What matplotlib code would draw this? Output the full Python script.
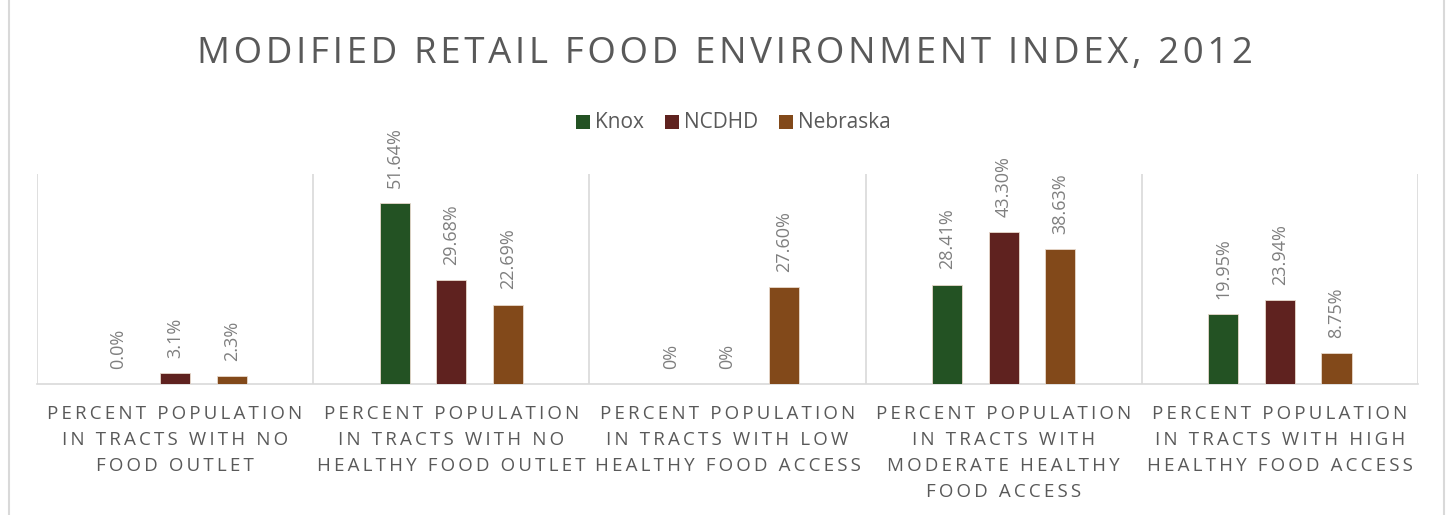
import numpy as np
import matplotlib.pyplot as plt
from matplotlib.lines import Line2D
from matplotlib.patches import Rectangle

categories = [
    "PERCENT POPULATION\nIN TRACTS WITH NO\nFOOD OUTLET",
    "PERCENT POPULATION\nIN TRACTS WITH NO\nHEALTHY FOOD OUTLET",
    "PERCENT POPULATION\nIN TRACTS WITH LOW\nHEALTHY FOOD ACCESS",
    "PERCENT POPULATION\nIN TRACTS WITH\nMODERATE HEALTHY\nFOOD ACCESS",
    "PERCENT POPULATION\nIN TRACTS WITH HIGH\nHEALTHY FOOD ACCESS",
]
series_names = ["Knox", "NCDHD", "Nebraska"]
knox = [0.0, 51.64, 0.0, 28.41, 19.95]
ncdhd = [3.1, 29.68, 0.0, 43.30, 23.94]
nebraska = [2.3, 22.69, 27.60, 38.63, 8.75]
knox_labels = ["0.0%", "51.64%", "0%", "28.41%", "19.95%"]
ncdhd_labels = ["3.1%", "29.68%", "0%", "43.30%", "23.94%"]
nebraska_labels = ["2.3%", "22.69%", "27.60%", "38.63%", "8.75%"]
colors = ["#235223", "#5F221F", "#82491A"]

plt.rcParams['font.family'] = ['Open Sans', 'DejaVu Sans']

W, H = 1450, 515


def spaced(s, sep='\u2009'):
    # fake letter spacing by putting thin spaces between characters
    return '\n'.join(sep.join(line) for line in s.split('\n'))


fig = plt.figure(figsize=(W / 100, H / 100), dpi=100)
ax = fig.add_axes([37 / W, 131 / H, (1418 - 37) / W, 210 / H])

x = np.arange(len(categories))
offset = 0.205
width = 0.109
all_vals = [knox, ncdhd, nebraska]
all_labels = [knox_labels, ncdhd_labels, nebraska_labels]
for i in range(3):
    xs = x + (i - 1) * offset
    ax.bar(xs, all_vals[i], width=width, color=colors[i],
           edgecolor='#E8D9CC', linewidth=0.6, zorder=3, label=series_names[i])
    for xi, v, lab in zip(xs, all_vals[i], all_labels[i]):
        ax.annotate(lab, (xi, v), xytext=(0, 11), textcoords='offset points',
                    rotation=90, ha='center', va='bottom',
                    fontsize=13, color='#7F7F7F')

ax.set_xlim(-0.5, len(categories) - 0.5)
ax.set_ylim(0, 60)
for b in np.arange(-0.5, len(categories), 1.0):
    ax.axvline(b, color='#D9D9D9', linewidth=1.2, zorder=1)

for s in ['top', 'left', 'right']:
    ax.spines[s].set_visible(False)
ax.spines['bottom'].set_color('#D9D9D9')
ax.spines['bottom'].set_linewidth(1.2)
ax.set_yticks([])
ax.set_xticks(x)
ax.set_xticklabels([spaced(c) for c in categories], fontsize=13.5,
                   color='#595959', linespacing=1.58)
ax.tick_params(axis='x', length=0, pad=15)

fig.text(0.5, 1 - 54 / H, spaced("MODIFIED RETAIL FOOD ENVIRONMENT INDEX, 2012", '\u200a'),
         ha='center', va='center', fontsize=26.4, color='#595959')

# legend entries placed like the original (uneven spacing)
legend_x = [576, 665, 779]
for lx, name, c in zip(legend_x, series_names, colors):
    fig.add_artist(Rectangle((lx / W, (H - 129) / H), 14 / W, 14 / H,
                             transform=fig.transFigure, facecolor=c, edgecolor='none'))
    fig.text((lx + 19) / W, 1 - 122 / H, name, ha='left', va='center',
             fontsize=15, color='#595959')

# chart border sides
for xb in [8.5 / W, 1443.5 / W]:
    fig.add_artist(Line2D([xb, xb], [0, 1], color='#D9D9D9', linewidth=1.5))

fig.savefig('out.png', dpi=100)
